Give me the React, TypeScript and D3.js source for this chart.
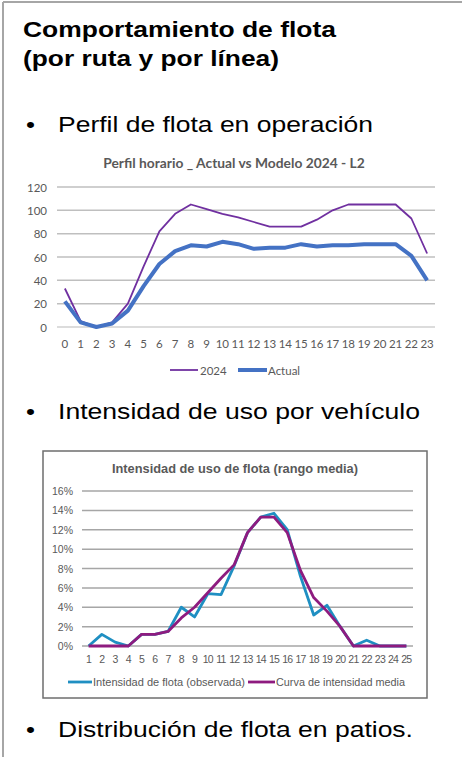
import React from 'react';
import * as d3 from 'd3';

// chart 1: hourly fleet profile
const hours = d3.range(0, 24);
const modelo2024 = [33, 5, 0, 4, 20, 52, 82, 97, 105, 101, 97, 94, 90, 86, 86, 86, 92, 100, 105, 105, 105, 105, 93, 63];
const actual = [22, 4, 0, 3, 14, 35, 54, 65, 70, 69, 73, 71, 67, 68, 68, 71, 69, 70, 70, 71, 71, 71, 61, 40];
const yTicks1 = [0, 20, 40, 60, 80, 100, 120];

// chart 2: usage intensity (% of fleet)
const bins = d3.range(1, 26);
const observada = [0, 1.2, 0.4, 0, 1.2, 1.2, 1.5, 4.0, 3.0, 5.4, 5.3, 8.3, 11.7, 13.3, 13.7, 12.0, 7.2, 3.2, 4.2, 2.0, 0, 0.6, 0, 0, 0];
const media = [0, 0, 0, 0, 1.2, 1.2, 1.5, 2.9, 4.0, 5.5, 7.0, 8.4, 11.7, 13.3, 13.3, 11.7, 7.8, 5.0, 3.6, 2.0, 0, 0, 0, 0, 0];
const yTicks2 = [0, 2, 4, 6, 8, 10, 12, 14, 16];

const ARIAL = '"Liberation Sans", Arial, sans-serif';
const CALIBRI = 'Lato, "Liberation Sans", sans-serif';

function HourChart() {
  const x = d3.scaleBand<number>().domain(hours).range([57, 435]);
  const y = d3.scaleLinear().domain([0, 120]).range([327, 187]);
  const cx = (d: number) => (x(d) as number) + x.bandwidth() / 2;
  const line = d3
    .line<number>()
    .x((_, i) => cx(hours[i]))
    .y(d => y(d));

  return (
    <g>
      <text x={234} y={162} textAnchor="middle" dominantBaseline="central"
        fontFamily={CALIBRI} fontWeight="bold" fontSize={13.8} fill="#595959">
        Perfil horario _ Actual vs Modelo 2024 - L2
      </text>
      {yTicks1.map(t => (
        <g key={t}>
          <line x1={57} x2={435} y1={y(t)} y2={y(t)} stroke={t === 0 ? '#d0d0d0' : '#bfbfbf'} strokeWidth={1.5} />
          <text x={47} y={y(t)} textAnchor="end" dominantBaseline="central"
            fontFamily={CALIBRI} fontSize={11.5} fill="#595959">{t}</text>
        </g>
      ))}
      {hours.map(h => (
        <text key={h} x={cx(h)} y={343} textAnchor="middle" dominantBaseline="central"
          fontFamily={CALIBRI} fontSize={11.5} fill="#595959">{h}</text>
      ))}
      <path d={line(modelo2024) || ''} fill="none" stroke="#7030a0" strokeWidth={1.8} strokeLinejoin="round" />
      <path d={line(actual) || ''} fill="none" stroke="#4472c4" strokeWidth={4} strokeLinejoin="round" />
      <g fontFamily={CALIBRI} fontSize={11.5} fill="#595959">
        <line x1={170} x2={198} y1={370} y2={370} stroke="#7030a0" strokeWidth={1.8} />
        <text x={200} y={370} dominantBaseline="central">2024</text>
        <line x1={238} x2={267} y1={370} y2={370} stroke="#4472c4" strokeWidth={4} />
        <text x={268} y={370} dominantBaseline="central">Actual</text>
      </g>
    </g>
  );
}

function IntensityChart() {
  const x = d3.scaleBand<number>().domain(bins).range([82, 413]);
  const y = d3.scaleLinear().domain([0, 16]).range([646, 491]);
  const cx = (d: number) => (x(d) as number) + x.bandwidth() / 2;
  const line = d3
    .line<number>()
    .x((_, i) => cx(bins[i]))
    .y(d => y(d));

  return (
    <g>
      <rect x={43} y={451} width={384} height={247} fill="#fff" stroke="#6e6e6e" strokeWidth={1.5} />
      <text x={235} y={468} textAnchor="middle" dominantBaseline="central"
        fontFamily={ARIAL} fontWeight="bold" fontSize={12.8} fill="#595959">
        Intensidad de uso de flota (rango media)
      </text>
      {yTicks2.map(t => (
        <g key={t}>
          <line x1={82} x2={413} y1={y(t)} y2={y(t)} stroke="#a6a6a6" strokeWidth={1.5} />
          <text x={73} y={y(t)} textAnchor="end" dominantBaseline="central"
            fontFamily={ARIAL} fontSize={10.5} fill="#595959">{t}%</text>
        </g>
      ))}
      {bins.map(b => (
        <text key={b} x={cx(b)} y={659} textAnchor="middle" dominantBaseline="central"
          fontFamily={ARIAL} fontSize={10.5} fill="#595959" letterSpacing={-0.8}>{b}</text>
      ))}
      <path d={line(observada) || ''} fill="none" stroke="#1f8fc2" strokeWidth={2.8} strokeLinejoin="round" />
      <path d={line(media) || ''} fill="none" stroke="#8e1b7f" strokeWidth={2.8} strokeLinejoin="round" />
      <g fontFamily={ARIAL} fontSize={11} fill="#595959">
        <line x1={68} x2={92} y1={682} y2={682} stroke="#1f8fc2" strokeWidth={2.8} />
        <text x={93} y={682} dominantBaseline="central" textLength={152} lengthAdjust="spacingAndGlyphs">
          Intensidad de flota (observada)
        </text>
        <line x1={248} x2={275} y1={682} y2={682} stroke="#8e1b7f" strokeWidth={2.8} />
        <text x={276} y={682} dominantBaseline="central" textLength={129} lengthAdjust="spacingAndGlyphs">
          Curva de intensidad media
        </text>
      </g>
    </g>
  );
}

export default function App() {
  const headings = [
    { text: 'Comportamiento de flota', y: 37, w: 313 },
    { text: '(por ruta y por línea)', y: 66, w: 256 },
  ];
  const bullets = [
    { text: 'Perfil de flota en operación', y: 132, w: 315 },
    { text: 'Intensidad de uso por vehículo', y: 419, w: 362 },
    { text: 'Distribución de flota en patios.', y: 737, w: 355 },
  ];
  return (
    <svg width={462} height={757} style={{ position: 'absolute', left: 0, top: 0 }}>
      <rect width={462} height={757} fill="#fff" />
      <line x1={3} x2={462} y1={2} y2={2} stroke="#a6a6a6" strokeWidth={2} />
      <line x1={3} x2={3} y1={2} y2={757} stroke="#a6a6a6" strokeWidth={2} />
      <g fontFamily={ARIAL} fontWeight="bold" fontSize={22} fill="#000">
        {headings.map(h => (
          <text key={h.text} x={23} y={h.y} textLength={h.w} lengthAdjust="spacingAndGlyphs">{h.text}</text>
        ))}
      </g>
      <g fontFamily={ARIAL} fontSize={22} fill="#000">
        {bullets.map(b => (
          <g key={b.text}>
            <text x={26} y={b.y} textLength={9} lengthAdjust="spacingAndGlyphs">•</text>
            <text x={58} y={b.y} textLength={b.w} lengthAdjust="spacingAndGlyphs">{b.text}</text>
          </g>
        ))}
      </g>
      <HourChart />
      <IntensityChart />
    </svg>
  );
}
